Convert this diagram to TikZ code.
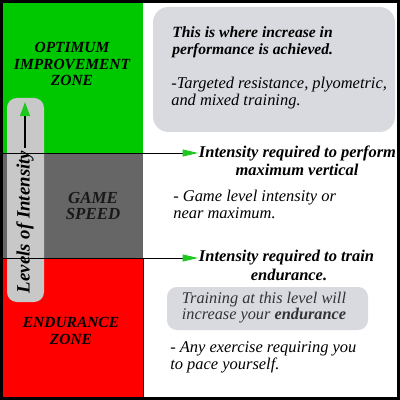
\documentclass[tikz,border=0pt]{standalone}
\usepackage{fontspec}
\setmainfont{Liberation Serif}
\usetikzlibrary{arrows.meta, positioning}
\definecolor{zonegreen}{RGB}{0,200,0}
\definecolor{zonegray}{RGB}{102,102,102}
\definecolor{zonered}{RGB}{255,0,0}
\definecolor{capsulegray}{RGB}{200,200,200}
\definecolor{notegray}{RGB}{216,218,224}
\definecolor{tipgreen}{RGB}{30,200,30}

\begin{document}
\begin{tikzpicture}[
    x=0.025cm, y=-0.025cm,
    zonelabel/.style={font=\fontsize{11}{11.5}\selectfont\bfseries\itshape, align=center, inner sep=0pt},
    headline/.style={font=\fontsize{11.7}{12}\selectfont\bfseries\itshape, inner sep=0.5pt},
    notetext/.style={font=\fontsize{11.7}{12.2}\selectfont\itshape, align=left, anchor=west, inner sep=0pt},
    arr/.style={-{Triangle[length=11pt, width=5pt, color=tipgreen]}, line width=0.7pt},
    uparr/.style={-{Triangle[length=10pt, width=7pt, color=tipgreen]}, line width=1.3pt},
  ]
  \useasboundingbox (0,0) rectangle (400,400);
  % zones on the left
  \fill[zonegreen] (2,2) rectangle (143,153);
  \fill[zonegray] (2,153) rectangle (143,258);
  \fill[zonered] (2,258) rectangle (143,397);
  \draw[line width=0.7pt] (143.5,258) -- (143.5,397);
  \node[zonelabel] (opt) at (72,64) {OPTIMUM\\IMPROVEMENT\\ZONE};
  \node[zonelabel, font=\fontsize{12}{12}\selectfont\bfseries\itshape, text=black!90] (game) at (93,206) {GAME\\SPEED};
  \node[zonelabel] (endu) at (71,331) {ENDURANCE\\ZONE};
  % capsule with the intensity scale
  \fill[capsulegray, rounded corners=7pt] (7,98) rectangle (44,302);
  \coordinate (lowend) at (25,148);
  \coordinate (topend) at (25,102);
  \draw[uparr] (lowend) -- (topend);
  \node[font=\fontsize{13.4}{13.4}\selectfont\bfseries\itshape, rotate=90] (lvl) at (25,222) {Levels of Intensity};
  % notes on the right
  \fill[notegray, rounded corners=11pt] (153,7) rectangle (395,132);
  \node[notetext, font=\fontsize{11.1}{12.2}\selectfont\bfseries\itshape] (where) at (172,42.5) {This is where increase in\\performance is achieved.};
  \node[notetext] (target) at (171,93) {-Targeted resistance, plyometric,\\and mixed training.};
  \coordinate (gtop) at (2,153);
  \node[headline, anchor=west] (perf) at (198,153) {Intensity required to perform};
  \node[headline] (vert) at (297,170) {maximum vertical};
  \draw[arr] (gtop) -- (perf.west);
  \node[notetext] (gamelvl) at (173,204.5) {- Game level intensity or\\near maximum.};
  \coordinate (rtop) at (2,258);
  \node[headline, anchor=west] (train) at (198,258) {Intensity required to train};
  \node[headline] (endw) at (289,275) {endurance.};
  \draw[arr] (rtop) -- (train.west);
  \fill[notegray, rounded corners=7pt] (167,287) rectangle (368,330);
  \node[font=\fontsize{11.6}{11.5}\selectfont\itshape, align=center, text=black!80] (level) at (264,307.5) {Training at this level will\\increase your \textbf{endurance}};
  \node[notetext] (pace) at (170,357.5) {- Any exercise requiring you\\to pace yourself.};
  % outer frame
  \draw[line width=1.9pt] (1.3,1.3) rectangle (398.5,398.5);
\end{tikzpicture}
\end{document}
